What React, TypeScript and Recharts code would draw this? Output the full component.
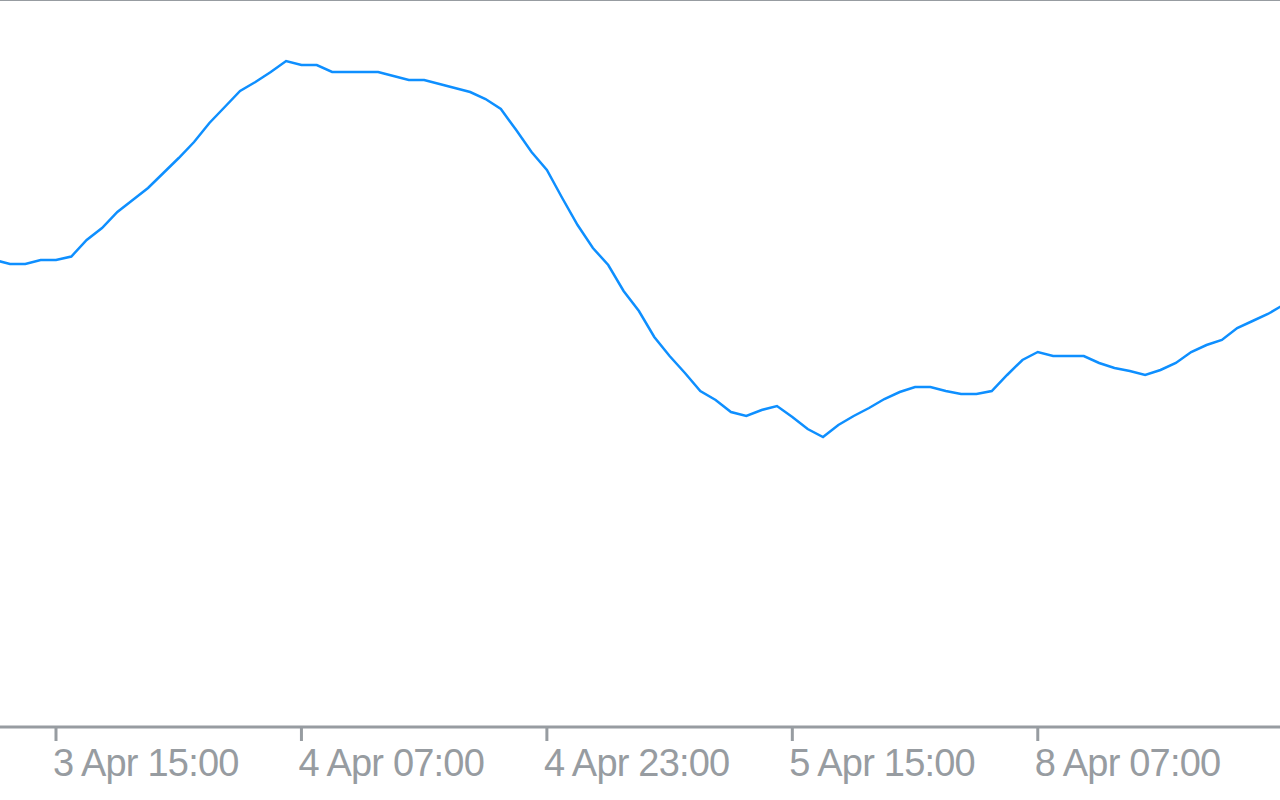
import React from "react";
import { LineChart, Line, XAxis, YAxis, ReferenceLine } from "recharts";

// hours relative to 3 Apr 15:00 (trading hours; weekend skipped)
const hours = [
  -4, -3, -2, -1, 0, 1, 2, 3, 4, 5, 6, 7, 8, 9, 10, 11, 12, 13, 14, 15, 16, 17, 18, 19, 20,
  21, 22, 23, 24, 25, 26, 27, 28, 29, 30, 31, 32, 33, 34, 35, 36, 37, 38, 39, 40, 41, 42, 43,
  44, 45, 46, 47, 48, 49, 50, 51, 52, 53, 54, 55, 56, 57, 58, 59, 60, 61, 62, 63, 64, 65, 66,
  67, 68, 69, 70, 71, 72, 73, 74, 75, 76, 77, 78, 79, 80,
];
const values = [
  467, 463, 463, 467, 467, 470.5, 487, 499, 515, 527, 539, 554, 569, 585, 604, 620, 636, 645,
  655, 666, 662, 662, 655, 655, 655, 655, 651, 647, 647, 643, 639, 635, 628, 618, 597, 575,
  557, 529, 502, 479, 462, 436, 416, 390, 371, 354, 336, 327, 315, 311, 317, 321, 310, 298,
  290, 302, 311, 319, 328, 335, 340, 340, 336, 333, 333, 336, 352, 367, 375, 371, 371, 371,
  364, 359, 356, 352, 357, 364, 375, 382, 387, 399, 406, 413, 422,
];
const tickHours = [0, 16, 32, 48, 64];
const tickLabels = ["3 Apr 15:00", "4 Apr 07:00", "4 Apr 23:00", "5 Apr 15:00", "8 Apr 07:00"];

const data = hours.map((h, i) => ({ h, v: values[i] }));

const GREY = "#979ca1";
const BLUE = "#0e8fff";

const Tick = (props: any) => {
  const { x, y, payload } = props;
  const idx = tickHours.indexOf(payload.value);
  return (
    <text
      x={x - 3}
      y={y + 33}
      fill={GREY}
      fontFamily="'Liberation Sans', Arial, sans-serif"
      fontSize={38}
      letterSpacing={-0.8}
      textAnchor="start"
    >
      {idx >= 0 ? tickLabels[idx] : ""}
    </text>
  );
};

export default function App() {
  return (
    <div style={{ position: "absolute", left: 0, top: 0, width: 1280, height: 800, background: "#fff" }}>
      <LineChart width={1280} height={800} data={data} margin={{ top: 0, right: 0, bottom: 0, left: 0 }}>
        <XAxis
          dataKey="h"
          type="number"
          domain={[-3.65, 79.79]}
          allowDataOverflow
          ticks={tickHours}
          interval={0}
          height={73}
          axisLine={{ stroke: GREY, strokeWidth: 3 }}
          tickLine={{ stroke: GREY, strokeWidth: 3 }}
          tickSize={14}
          tick={<Tick />}
        />
        <YAxis hide domain={[0, 727]} allowDataOverflow type="number" />
        <ReferenceLine y={727} stroke={GREY} strokeWidth={2} ifOverflow="visible" />
        <Line
          type="linear"
          dataKey="v"
          stroke={BLUE}
          strokeWidth={2.5}
          dot={false}
          isAnimationActive={false}
        />
      </LineChart>
    </div>
  );
}
